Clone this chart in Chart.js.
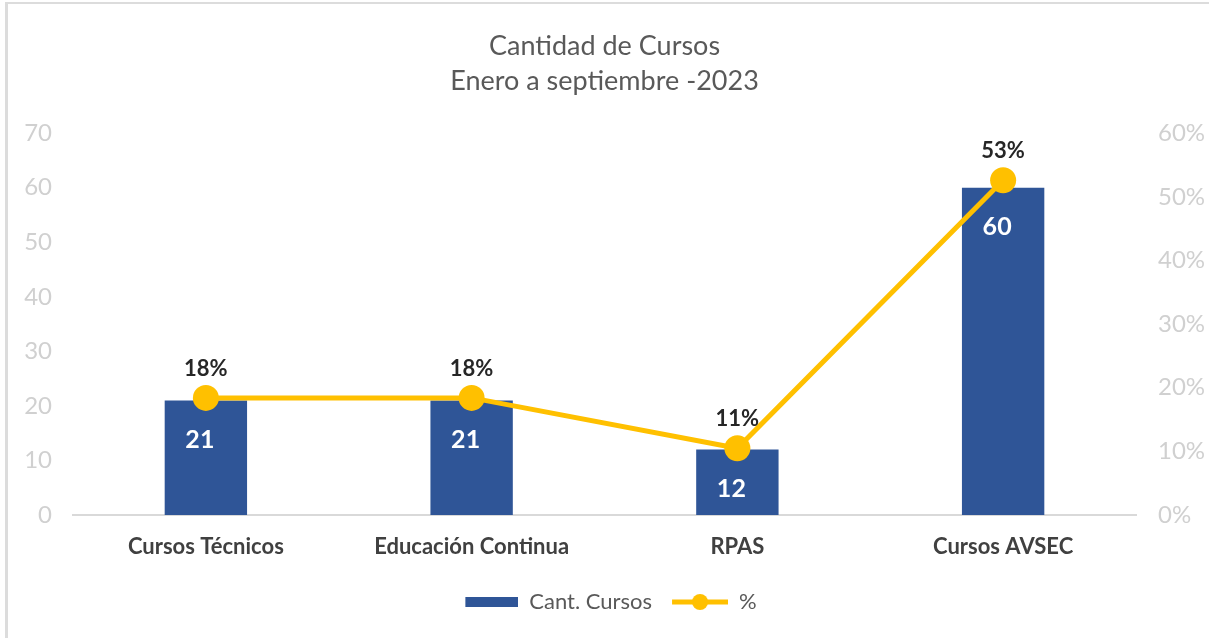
<!DOCTYPE html>
<html>
<head>
<meta charset="utf-8">
<script src="https://cdn.jsdelivr.net/npm/chart.js@4.4.0/dist/chart.umd.min.js"></script>
<style>
  body { margin: 0; background: #fff; }
  #marco { position: absolute; left: 5px; top: 2px; width: 1204px; height: 636px;
           border-left: 3px solid #dcdcdc; border-top: 2px solid #dcdcdc; }
  #grafico { position: absolute; left: 0; top: 0; }
</style>
</head>
<body>
<div id="marco"></div>
<canvas id="grafico" width="1209" height="638"></canvas>
<script>
const categorias = ['Cursos Técnicos', 'Educación Continua', 'RPAS', 'Cursos AVSEC'];
const cantCursos = [21, 21, 12, 60];
const porcentaje = [0.184, 0.184, 0.105, 0.526];
const ticksCursos = [0, 10, 20, 30, 40, 50, 60, 70];
const ticksPorc = [0, 0.1, 0.2, 0.3, 0.4, 0.5, 0.6];

const azul = '#2F5597';
const amarillo = '#FFC000';
const fuente = 'Lato, "Open Sans", sans-serif';

// iconos de la leyenda (barra y linea con punto)
const anchoIcono = 66;
function iconoBarra() {
    const c = document.createElement('canvas');
    c.width = anchoIcono; c.height = 12;
    const g = c.getContext('2d');
    g.fillStyle = azul;
    g.fillRect(13, 1, 53, 10);
    return c;
}
function iconoLinea() {
    const c = document.createElement('canvas');
    c.width = anchoIcono; c.height = 20;
    const g = c.getContext('2d');
    g.strokeStyle = amarillo;
    g.lineWidth = 5;
    g.beginPath(); g.moveTo(10, 10); g.lineTo(66, 10); g.stroke();
    g.fillStyle = amarillo;
    g.beginPath(); g.arc(38, 10, 8, 0, Math.PI * 2); g.fill();
    return c;
}

// etiquetas de datos
const etiquetas = {
    id: 'etiquetas',
    afterDatasetsDraw(chart) {
        const ctx = chart.ctx;
        ctx.save();
        ctx.textAlign = 'center';
        ctx.textBaseline = 'middle';
        chart.getDatasetMeta(0).data.forEach((bar, i) => {
            ctx.font = 'bold 25px ' + fuente;
            ctx.fillStyle = '#ffffff';
            ctx.fillText(cantCursos[i], bar.x - 6, bar.y + 39);
        });
        chart.getDatasetMeta(1).data.forEach((pt, i) => {
            ctx.font = 'bold 22px ' + fuente;
            ctx.fillStyle = '#262626';
            ctx.fillText(Math.round(porcentaje[i] * 100) + '%', pt.x, pt.y - 29);
        });
        ctx.restore();
    }
};

new Chart(document.getElementById('grafico'), {
    data: {
        labels: categorias,
        datasets: [
            {
                type: 'bar',
                label: 'Cant. Cursos',
                data: cantCursos,
                backgroundColor: azul,
                yAxisID: 'y',
                order: 1,
                barPercentage: 0.31,
                categoryPercentage: 1
            },
            {
                type: 'line',
                label: '%',
                data: porcentaje,
                borderColor: amarillo,
                backgroundColor: amarillo,
                borderWidth: 5,
                pointRadius: 13,
                pointHoverRadius: 13,
                pointBackgroundColor: amarillo,
                pointBorderWidth: 0,
                yAxisID: 'y1',
                order: 0
            }
        ]
    },
    options: {
        responsive: false,
        animation: false,
        layout: { padding: { top: 10, bottom: 15, left: 0, right: 0 } },
        plugins: {
            title: {
                display: true,
                text: ['Cantidad de Cursos', 'Enero a septiembre -2023'],
                color: '#595959',
                font: { family: fuente, size: 27, weight: 'normal', lineHeight: 1.3 },
                padding: { top: 19, bottom: 34 }
            },
            legend: {
                position: 'bottom',
                labels: {
                    color: '#595959',
                    font: { family: fuente, size: 22 },
                    padding: 10,
                    usePointStyle: true,
                    pointStyleWidth: anchoIcono,
                    sort: (a, b) => a.datasetIndex - b.datasetIndex,
                    generateLabels(chart) {
                        const items = Chart.defaults.plugins.legend.labels.generateLabels(chart);
                        items.forEach(it => {
                            it.pointStyle = it.datasetIndex === 0 ? iconoBarra() : iconoLinea();
                        });
                        return items;
                    }
                }
            },
            tooltip: { enabled: false }
        },
        scales: {
            x: {
                grid: { display: false, drawTicks: false },
                border: { color: '#d9d9d9', width: 2 },
                ticks: { color: '#404040', font: { family: fuente, size: 22, weight: 'bold' }, padding: 19 },
                afterFit(scale) { scale.height = 66; }
            },
            y: {
                position: 'left',
                min: 0, max: 70,
                grid: { display: false, drawTicks: false },
                border: { display: false },
                afterBuildTicks(scale) { scale.ticks = ticksCursos.map(v => ({ value: v })); },
                ticks: { color: '#d0d0d0', font: { family: fuente, size: 24 }, padding: 21 },
                afterFit(scale) { scale.width = 73; }
            },
            y1: {
                position: 'right',
                min: 0, max: 0.6,
                grid: { display: false, drawTicks: false },
                border: { display: false },
                afterBuildTicks(scale) { scale.ticks = ticksPorc.map(v => ({ value: v })); },
                ticks: {
                    color: '#d0d0d0', font: { family: fuente, size: 24 }, padding: 22,
                    callback: v => Math.round(v * 100) + '%'
                },
                afterFit(scale) { scale.width = 73; }
            }
        }
    },
    plugins: [etiquetas]
});
</script>
</body>
</html>
